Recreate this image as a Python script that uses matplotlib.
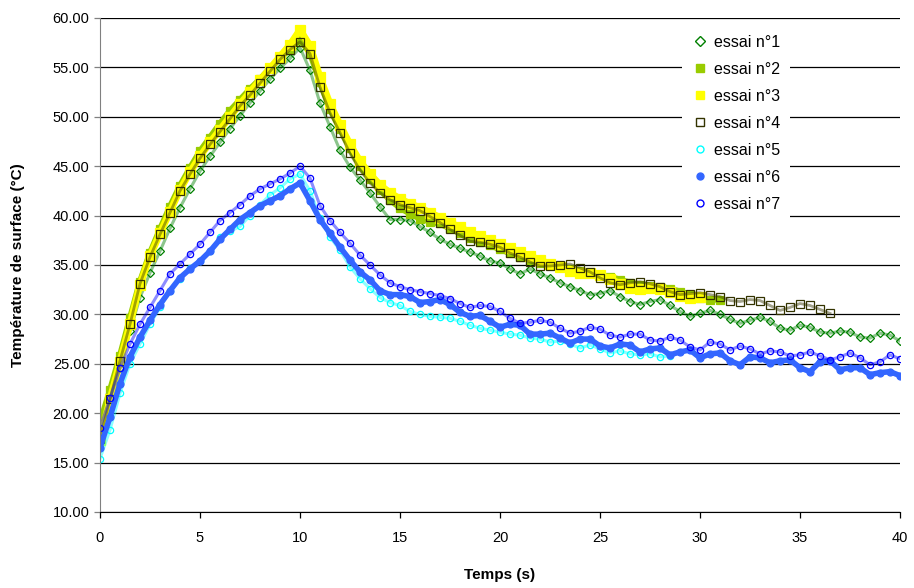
import numpy as np
import matplotlib
matplotlib.use("Agg")
import matplotlib.pyplot as plt
from matplotlib.lines import Line2D

plt.rcParams['font.family'] = ['Liberation Sans', 'DejaVu Sans']

# temps de mesure (s), pas de 0.5 s
temps = np.arange(0, 40.5, 0.5)

essai_1 = [
    18.8, 21.6, 24.6, 28.3, 31.7, 34.2, 36.4, 38.7, 40.8, 42.7,
    44.5, 46.0, 47.4, 48.8, 50.1, 51.4, 52.6, 53.8, 54.9, 55.9,
    57.0, 54.7, 51.4, 49.0, 46.6, 44.9, 43.6, 42.3, 40.9, 39.6,
    39.6, 39.5, 38.9, 38.3, 37.6, 37.1, 36.7, 36.3, 35.9, 35.4,
    35.2, 34.6, 34.1, 34.6, 34.1, 33.7, 33.2, 32.8, 32.4, 32.0,
    32.1, 32.4, 31.8, 31.3, 31.0, 31.3, 31.5, 30.9, 30.3, 29.8,
    30.1, 30.4, 30.0, 29.5, 29.1, 29.4, 29.7, 29.3, 28.6, 28.4,
    28.9, 28.7, 28.2, 28.1, 28.3, 28.2, 27.7, 27.6, 28.1, 27.9,
    27.3,
]

essai_2 = [
    19.0, 22.3, 25.8, 29.6, 33.3, 36.2, 38.6, 40.9, 43.0, 44.8,
    46.5, 47.9, 49.3, 50.6, 51.7, 52.8, 53.8, 54.9, 55.9, 56.9,
    57.8, 56.5, 53.5, 50.8, 48.8, 46.8, 45.0, 43.7, 42.6, 41.6,
    40.8, 40.2, 39.7, 39.4, 39.2, 38.7, 38.2, 37.7, 37.3, 37.0,
    36.6, 36.2, 35.8, 35.5, 35.2, 35.0, 34.8, 34.6, 34.4, 34.2,
    34.0, 33.8, 33.5, 33.2, 33.0, 32.9, 32.8, 32.6, 32.3, 32.0,
    31.7, 31.5, 31.5,
]

essai_3 = [
    17.3, 21.4, 25.2, 29.0, 33.0, 35.9, 38.2, 40.4, 42.6, 44.4,
    46.0, 47.4, 48.7, 50.0, 51.3, 52.5, 53.7, 54.9, 56.1, 57.3,
    58.8, 57.2, 54.0, 51.3, 49.2, 47.2, 45.5, 44.2, 43.1, 42.3,
    41.7, 41.2, 40.8, 40.3, 39.8, 39.3, 38.8, 38.3, 37.9, 37.5,
    37.1, 36.7, 36.3, 35.9, 35.5, 35.1, 34.8, 34.4, 34.2, 34.2,
    34.0, 33.6, 33.1, 32.7, 32.6, 32.7, 32.6, 32.3, 31.9, 31.7,
    31.8,
]

essai_4 = [
    17.4, 21.4, 25.3, 29.0, 33.1, 35.8, 38.1, 40.3, 42.5, 44.2,
    45.8, 47.2, 48.5, 49.8, 51.1, 52.2, 53.4, 54.6, 55.8, 56.8,
    57.6, 56.4, 53.0, 50.4, 48.4, 46.3, 44.6, 43.3, 42.3, 41.6,
    41.1, 40.8, 40.5, 39.9, 39.3, 38.6, 38.0, 37.4, 37.3, 37.1,
    36.8, 36.2, 35.8, 35.3, 34.9, 34.9, 35.0, 35.1, 34.7, 34.3,
    33.7, 33.2, 33.0, 33.2, 33.3, 33.1, 32.8, 32.3, 32.0, 32.1,
    32.2, 32.0, 31.8, 31.4, 31.3, 31.5, 31.4, 30.9, 30.4, 30.7,
    31.1, 30.9, 30.5, 30.1,
]

essai_5 = [
    15.4, 18.3, 22.0, 25.0, 27.0, 29.0, 30.7, 32.4, 33.6, 34.7,
    35.4, 36.4, 37.8, 38.4, 38.9, 40.0, 41.1, 42.1, 42.8, 43.7,
    44.2, 42.5, 39.8, 37.8, 36.5, 34.8, 33.6, 32.6, 31.7, 31.2,
    30.9, 30.3, 30.0, 29.8, 29.7, 29.6, 29.3, 28.9, 28.6, 28.4,
    28.2, 28.0, 27.9, 27.6, 27.5, 27.2, 27.3, 27.0, 26.6, 26.9,
    26.5, 26.1, 26.3, 26.0, 25.9, 26.0, 25.7, 25.8,
]

essai_6 = [
    16.5, 19.6, 23.0, 25.7, 27.7, 29.4, 31.0, 32.4, 33.7, 34.6,
    35.4, 36.4, 37.6, 38.6, 39.6, 40.3, 41.0, 41.5, 42.0, 42.7,
    43.3, 41.5, 39.6, 38.2, 36.8, 35.5, 34.3, 33.5, 32.4, 32.0,
    32.0, 31.8, 31.2, 31.3, 31.5, 31.0, 30.2, 29.8, 29.9, 29.3,
    28.7, 29.0, 28.9, 28.0, 28.0, 28.1, 27.6, 27.1, 27.5, 27.5,
    26.8, 26.6, 27.0, 26.9, 26.2, 26.5, 26.6, 25.9, 26.2, 26.4,
    25.6, 26.0, 26.1, 25.3, 24.9, 25.7, 25.6, 25.1, 25.3, 25.4,
    24.6, 24.2, 25.2, 25.3, 24.4, 24.6, 24.6, 23.9, 24.1, 24.2,
    23.8,
]

essai_7 = [
    18.5, 21.5, 24.6, 27.0, 29.0, 30.7, 32.4, 34.1, 35.1, 36.1,
    37.1, 38.3, 39.5, 40.3, 41.1, 42.0, 42.7, 43.2, 43.7, 44.3,
    45.0, 43.8, 41.0, 39.5, 38.3, 37.2, 36.0, 35.0, 34.0, 33.2,
    32.8, 32.5, 32.3, 32.1, 31.9, 31.6, 31.1, 30.7, 30.9, 30.8,
    30.3, 29.6, 29.1, 29.2, 29.4, 29.2, 28.6, 28.1, 28.3, 28.7,
    28.5, 27.9, 27.7, 28.0, 28.0, 27.4, 27.3, 27.7, 27.4, 26.7,
    26.4, 27.2, 27.0, 26.4, 26.8, 26.5, 26.0, 26.3, 26.2, 25.8,
    25.9, 26.2, 25.8, 25.4, 25.7, 26.1, 25.6, 24.9, 25.2, 25.9,
    25.5,
]

labels = ['essai n°1', 'essai n°2', 'essai n°3', 'essai n°4',
          'essai n°5', 'essai n°6', 'essai n°7']

# style : (valeurs, couleur, marqueur, taille, plein, largeur trait)
series = [
    (essai_1, '#008000', 'D', 4.0, False, 2.2),
    (essai_2, '#99CC00', 's', 6.0, True, 4.5),
    (essai_3, '#FFFF00', 's', 6.5, True, 5.0),
    (essai_4, '#333300', 's', 5.5, False, 2.0),
    (essai_5, '#00FFFF', 'o', 4.5, False, 2.2),
    (essai_6, '#3366FF', 'o', 5.0, True, 4.0),
    (essai_7, '#0000FF', 'o', 4.5, False, 2.2),
]

fig = plt.figure(figsize=(9.14, 5.88), dpi=100)
ax = fig.add_axes([0.1094, 0.1293, 0.8753, 0.8401])

handles = []
for (vals, color, marker, ms, filled, lw), lab in zip(series, labels):
    t = temps[:len(vals)]
    if filled:
        ax.plot(t, vals, '-', color=color, lw=lw, marker=marker, ms=ms,
                mfc=color, mec=color, mew=0.9)
    else:
        # bande de marqueurs creux très rapprochés
        ax.plot(t, vals, '-', color=color, lw=lw, alpha=0.45)
        ax.plot(t, vals, 'none', marker=marker, ms=ms, mfc='none', mec=color, mew=0.9)
    handles.append(Line2D([], [], ls='none', marker=marker, ms=5 if marker != 's' else 5.5,
                          mfc=color if filled else 'none', mec=color, mew=1.0))

ax.set_xlim(0, 40)
ax.set_ylim(10, 60)
ax.set_xticks(np.arange(0, 41, 5))
ax.set_yticks(np.arange(10, 61, 5))
ax.yaxis.set_major_formatter(matplotlib.ticker.FormatStrFormatter('%.2f'))
ax.yaxis.grid(True, color='black', lw=0.9)
ax.set_axisbelow(True)

for side in ['top', 'right']:
    ax.spines[side].set_visible(False)
ax.spines['left'].set_color('#808080')
ax.spines['bottom'].set_color('black')
ax.tick_params(axis='both', direction='out', length=4, width=0.9, labelsize=10.5,
               colors='black')
ax.tick_params(axis='y', color='#808080')
ax.tick_params(axis='x', pad=10)

ax.set_xlabel('Temps (s)', fontsize=11, fontweight='bold', labelpad=16)
ax.set_ylabel('Température de surface (°C)', fontsize=11, fontweight='bold', labelpad=20)

leg = ax.legend(handles, labels, loc='upper left', bbox_to_anchor=(0.728, 0.985),
                borderaxespad=0, frameon=True, fancybox=False, framealpha=1,
                edgecolor='none', facecolor='white', fontsize=11.5,
                handlelength=1.0, handletextpad=0.4, labelspacing=0.75,
                borderpad=0.6)

fig.savefig('out.png', dpi=100)
